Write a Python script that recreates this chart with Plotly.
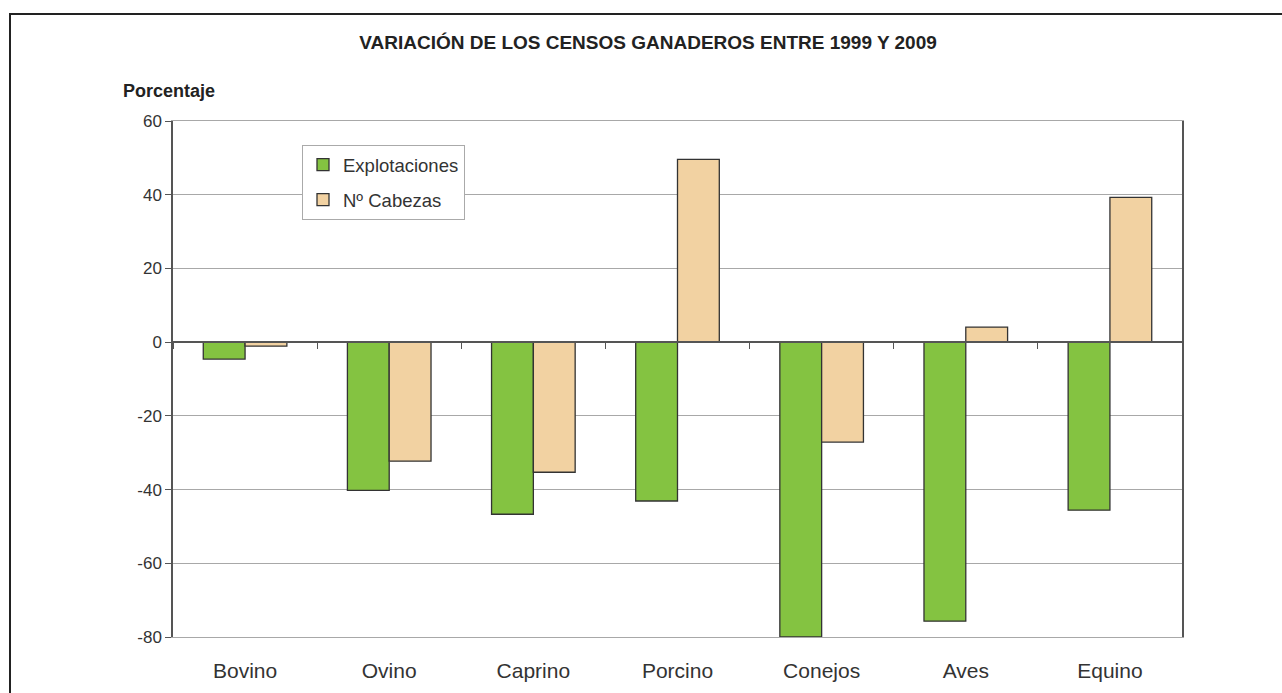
import plotly.graph_objects as go

categories = ["Bovino", "Ovino", "Caprino", "Porcino", "Conejos", "Aves", "Equino"]
explotaciones = [-4.6, -40.2, -46.7, -43.1, -80.0, -75.7, -45.6]
cabezas = [-1.1, -32.3, -35.3, 49.6, -27.1, 4.1, 39.3]
y_ticks = [60, 40, 20, 0, -20, -40, -60, -80]

W, H = 1282, 693
L, R, T, B = 173, 1182, 121, 637
pw, ph = R - L, B - T
ymin, ymax = -80, 60

FONT = "Liberation Sans, Arial, sans-serif"
GREEN = "#84C341"
TAN = "#F2D2A2"

fig = go.Figure()
fig.add_trace(go.Bar(x=categories, y=explotaciones, name="Explotaciones",
                     marker=dict(color=GREEN, line=dict(color="#333333", width=1.3)),
                     legendgroup="a"))
fig.add_trace(go.Bar(x=categories, y=cabezas, name="Nº Cabezas",
                     marker=dict(color=TAN, line=dict(color="#333333", width=1.3)),
                     legendgroup="b"))
# invisible helper trace for the bottom category labels axis
fig.add_trace(go.Scatter(x=categories, y=[0] * len(categories), xaxis="x2", yaxis="y",
                         mode="markers", marker=dict(opacity=0), showlegend=False,
                         hoverinfo="skip"))

fig.update_layout(
    width=W, height=H,
    margin=dict(l=L, r=W - R, t=T, b=H - B),
    paper_bgcolor="white", plot_bgcolor="white",
    barmode="group", bargap=0.42, bargroupgap=0,
    font=dict(family=FONT, color="#333333"),
    title=dict(text="<b>VARIACIÓN DE LOS CENSOS GANADEROS ENTRE 1999 Y 2009</b>",
               x=648 / W, xanchor="center", y=1 - 42 / H, yanchor="middle",
               font=dict(size=19, color="#222222", family=FONT)),
    showlegend=True,
    legend=dict(x=(302 - L) / pw, y=(B - 145) / ph, xanchor="left", yanchor="top",
                bgcolor="white", bordercolor="#aaaaaa", borderwidth=1,
                font=dict(size=18.5, color="#333333", family=FONT),
                traceorder="grouped", tracegroupgap=8,
                itemwidth=30),
    xaxis=dict(anchor="free", position=(0 - ymin) / (ymax - ymin),
               showline=True, linecolor="#555555", linewidth=1.5,
               ticks="outside", tickson="boundaries", ticklen=6, tickcolor="#555555",
               showticklabels=False, showgrid=False, zeroline=False),
    xaxis2=dict(overlaying="x", matches="x", anchor="y", side="bottom",
                showticklabels=True, ticks="", showline=True, mirror=True,
                linecolor="#a8a8a8", linewidth=1.2, showgrid=False,
                tickfont=dict(size=21, color="#333333", family=FONT),
                ticklabelstandoff=15),
    yaxis=dict(range=[ymin, ymax], tickvals=y_ticks, ticktext=[str(v) for v in y_ticks],
               showgrid=True, gridcolor="#a8a8a8", gridwidth=1.2,
               zeroline=True, zerolinecolor="#555555", zerolinewidth=1.5,
               showline=True, linecolor="#555555", linewidth=1.5, mirror=True,
               ticks="outside", ticklen=6, tickcolor="#555555",
               tickfont=dict(size=17, color="#333333", family=FONT)),
    shapes=[dict(type="rect", xref="paper", yref="paper",
                 x0=(10 - L) / pw, x1=(W + 20 - L) / pw,
                 y0=(B - (H + 20)) / ph, y1=(B - 14) / ph,
                 line=dict(color="#222222", width=2), fillcolor="rgba(0,0,0,0)",
                 layer="above")],
    annotations=[dict(text="<b>Porcentaje</b>", xref="paper", yref="paper",
                      x=(121 - L) / pw, y=(B - 91) / ph, xanchor="left", yanchor="middle",
                      showarrow=False, font=dict(size=18, color="#222222", family=FONT))],
)

fig.write_html("out.html", config={"displayModeBar": False},
               post_script="document.body.style.margin='0px';")
